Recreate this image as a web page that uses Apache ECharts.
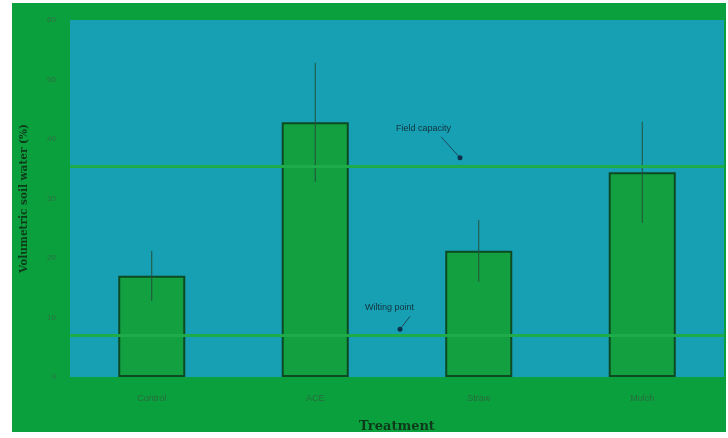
<!DOCTYPE html>
<html><head><meta charset="utf-8">
<script src="https://cdn.jsdelivr.net/npm/echarts@6/dist/echarts.min.js"></script>
<style>html,body{margin:0;padding:0;background:#fff}#c{width:728px;height:438px}</style>
</head><body><div id="c"></div>
<script>
const categories = ["Control", "ACE", "Straw", "Mulch"];
const means = [17, 42.8, 21.2, 34.4];
const errors = [4.2, 10, 5.2, 8.5];
const yTicks = [0, 10, 20, 30, 40, 50, 60];
const fieldCapacity = 35.5;
const wiltingPoint = 7;

const chart = echarts.init(document.getElementById('c'));
const bgRect = {
  type: 'rect', z: -10, silent: true,
  shape: {x: 12, y: 3, width: 714, height: 429},
  style: {fill: '#0ba03e'}
};
const option = {
  backgroundColor: '#ffffff',
  animation: false,
  graphic: [bgRect],
  grid: {left: 70, right: 4, top: 20, bottom: 60, show: true, backgroundColor: '#17a0b4', borderWidth: 0},
  xAxis: {
    type: 'category', data: categories,
    name: 'Treatment', nameLocation: 'middle', nameGap: 43,
    nameTextStyle: {fontFamily: 'DejaVu Serif', fontWeight: 'bold', fontSize: 13, color: '#0d3a1a'},
    axisLine: {show: false}, axisTick: {show: false},
    axisLabel: {fontSize: 9, color: '#2a6a3c', margin: 17, fontFamily: 'Liberation Sans'}
  },
  yAxis: {
    type: 'value', min: 0, max: 60, interval: 10,
    name: 'Volumetric soil water (%)', nameLocation: 'middle', nameGap: 40,
    nameTextStyle: {fontFamily: 'DejaVu Serif', fontWeight: 'bold', fontSize: 10.5, color: '#0d3a1a'},
    axisLine: {show: false}, axisTick: {show: false}, splitLine: {show: false},
    axisLabel: {fontSize: 8, color: '#2f6e40', margin: 14,
      formatter: v => yTicks.includes(v) ? String(v) : ''}
  },
  series: [{
    type: 'bar', data: means, barWidth: '41%',
    itemStyle: {color: '#13a041', borderColor: '#0d4a22', borderWidth: 2},
    markLine: {
      silent: true, symbol: 'none', label: {show: false},
      lineStyle: {color: '#1eac4a', width: 3, type: 'solid'},
      data: [{yAxis: fieldCapacity}, {yAxis: wiltingPoint}]
    },
    z: 2
  }, {
    type: 'custom', z: 3,
    data: means.map((m, i) => [i, m - errors[i], m + errors[i]]),
    renderItem: (params, api) => {
      const lo = api.coord([api.value(0), api.value(1)]);
      const hi = api.coord([api.value(0), api.value(2)]);
      return {type: 'line', shape: {x1: lo[0], y1: lo[1], x2: hi[0], y2: hi[1]},
        style: {stroke: '#22503a', lineWidth: 1}};
    }
  }]
};
chart.setOption(option);

function annot(text, tx, ty, ax, ay) {
  return [
    {type: 'text', x: tx, y: ty, style: {text: text, fill: '#12313a', fontSize: 9, fontFamily: 'Liberation Sans'}, z: 10},
    {type: 'line', shape: {x1: tx + 45, y1: ty + 13, x2: ax, y2: ay}, style: {stroke: '#1a4a5a', lineWidth: 1}, z: 10},
    {type: 'circle', shape: {cx: ax, cy: ay, r: 2.5}, style: {fill: '#0f2f4a'}, z: 10}
  ];
}
const fc = chart.convertToPixel({gridIndex: 0}, [1, fieldCapacity]);
const wp = chart.convertToPixel({gridIndex: 0}, [1, wiltingPoint]);
const g = [bgRect]
  .concat(annot('Field capacity', 396, fc[1] - 42, 460, fc[1] - 8))
  .concat(annot('Wilting point', 365, wp[1] - 32, 400, wp[1] - 6));
chart.setOption({graphic: g});
</script></body></html>
